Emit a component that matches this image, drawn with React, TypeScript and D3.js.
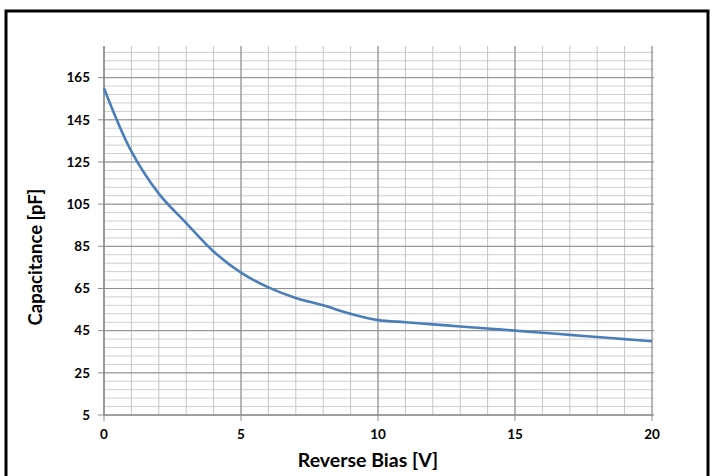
import React from "react";
import * as d3 from "d3";

const biasV = [0, 1, 2, 3, 4, 5, 6, 7, 8, 9, 10, 11, 12, 13, 14, 15, 16, 17, 18, 19, 20];
const capacitancePF = [160, 130, 110, 96, 82.5, 72.5, 65.5, 60.5, 57, 53, 50, 49, 48, 47, 46, 45, 44, 43, 42, 41, 40];
const xTicks = [0, 5, 10, 15, 20];
const yTicks = [5, 25, 45, 65, 85, 105, 125, 145, 165];
const xTitle = "Reverse Bias [V]";
const yTitle = "Capacitance [pF]";

const W = 713;
const H = 476;
const FONT = "Lato, 'Liberation Sans', sans-serif";

export default function App() {
  const x = d3.scaleLinear().domain([0, 20]).range([104, 652]);
  const y = d3.scaleLinear().domain([5, 180]).range([415, 46]);
  const minorX = d3.range(0, 21, 1);
  const minorY = d3.range(5, 181, 4);
  const pts = biasV.map((v, i) => [v, capacitancePF[i]] as [number, number]);
  const line = d3
    .line<[number, number]>()
    .x((d) => x(d[0]))
    .y((d) => y(d[1]))
    .curve(d3.curveCatmullRom.alpha(0.5));

  return (
    <svg
      width={W}
      height={H}
      style={{ position: "fixed", left: 0, top: 0, background: "#fff" }}
    >
      <rect x={0} y={0} width={W} height={H} fill="#fff" />
      <rect x={6} y={11} width={702} height={480} fill="none" stroke="#000" strokeWidth={3} />
      {minorY.map((v) => (
        <line key={"mh" + v} x1={x(0)} x2={x(20) + 2} y1={y(v)} y2={y(v)} stroke="#cfcfcf" strokeWidth={1} />
      ))}
      {minorX.map((v) => (
        <line key={"mv" + v} x1={x(v)} x2={x(v)} y1={y(180)} y2={y(5)} stroke="#c4c4c4" strokeWidth={1} />
      ))}
      {yTicks.map((v) => (
        <line key={"h" + v} x1={x(0) - 6} x2={x(20) + 2} y1={y(v)} y2={y(v)} stroke="#8c8c8c" strokeWidth={1} />
      ))}
      {xTicks.map((v) => (
        <line key={"v" + v} x1={x(v)} x2={x(v)} y1={y(180)} y2={y(5) + 6} stroke="#8c8c8c" strokeWidth={1} />
      ))}
      <line x1={x(0)} x2={x(0)} y1={y(180)} y2={y(5)} stroke="#868686" strokeWidth={1.2} />
      <line x1={x(0)} x2={x(20)} y1={y(5)} y2={y(5)} stroke="#868686" strokeWidth={1.2} />
      {yTicks.map((v) => (
        <text
          key={"yl" + v}
          x={90}
          y={y(v)}
          dy="0.35em"
          textAnchor="end"
          fontFamily={FONT}
          fontWeight={700}
          fontSize={13.5}
          fill="#000"
        >
          {v}
        </text>
      ))}
      {xTicks.map((v) => (
        <text
          key={"xl" + v}
          x={x(v)}
          y={439}
          textAnchor="middle"
          fontFamily={FONT}
          fontWeight={700}
          fontSize={13.5}
          fill="#000"
        >
          {v}
        </text>
      ))}
      <path d={line(pts) || ""} fill="none" stroke="#4a7ebb" strokeWidth={2.6} strokeLinejoin="round" />
      <text
        x={368}
        y={467}
        textAnchor="middle"
        fontFamily={FONT}
        fontWeight={700}
        fontSize={19.5}
        fill="#000"
      >
        {xTitle}
      </text>
      <text
        transform={`translate(42, 257) rotate(-90)`}
        textAnchor="middle"
        fontFamily={FONT}
        fontWeight={700}
        fontSize={18.5}
        fill="#000"
      >
        {yTitle}
      </text>
    </svg>
  );
}
